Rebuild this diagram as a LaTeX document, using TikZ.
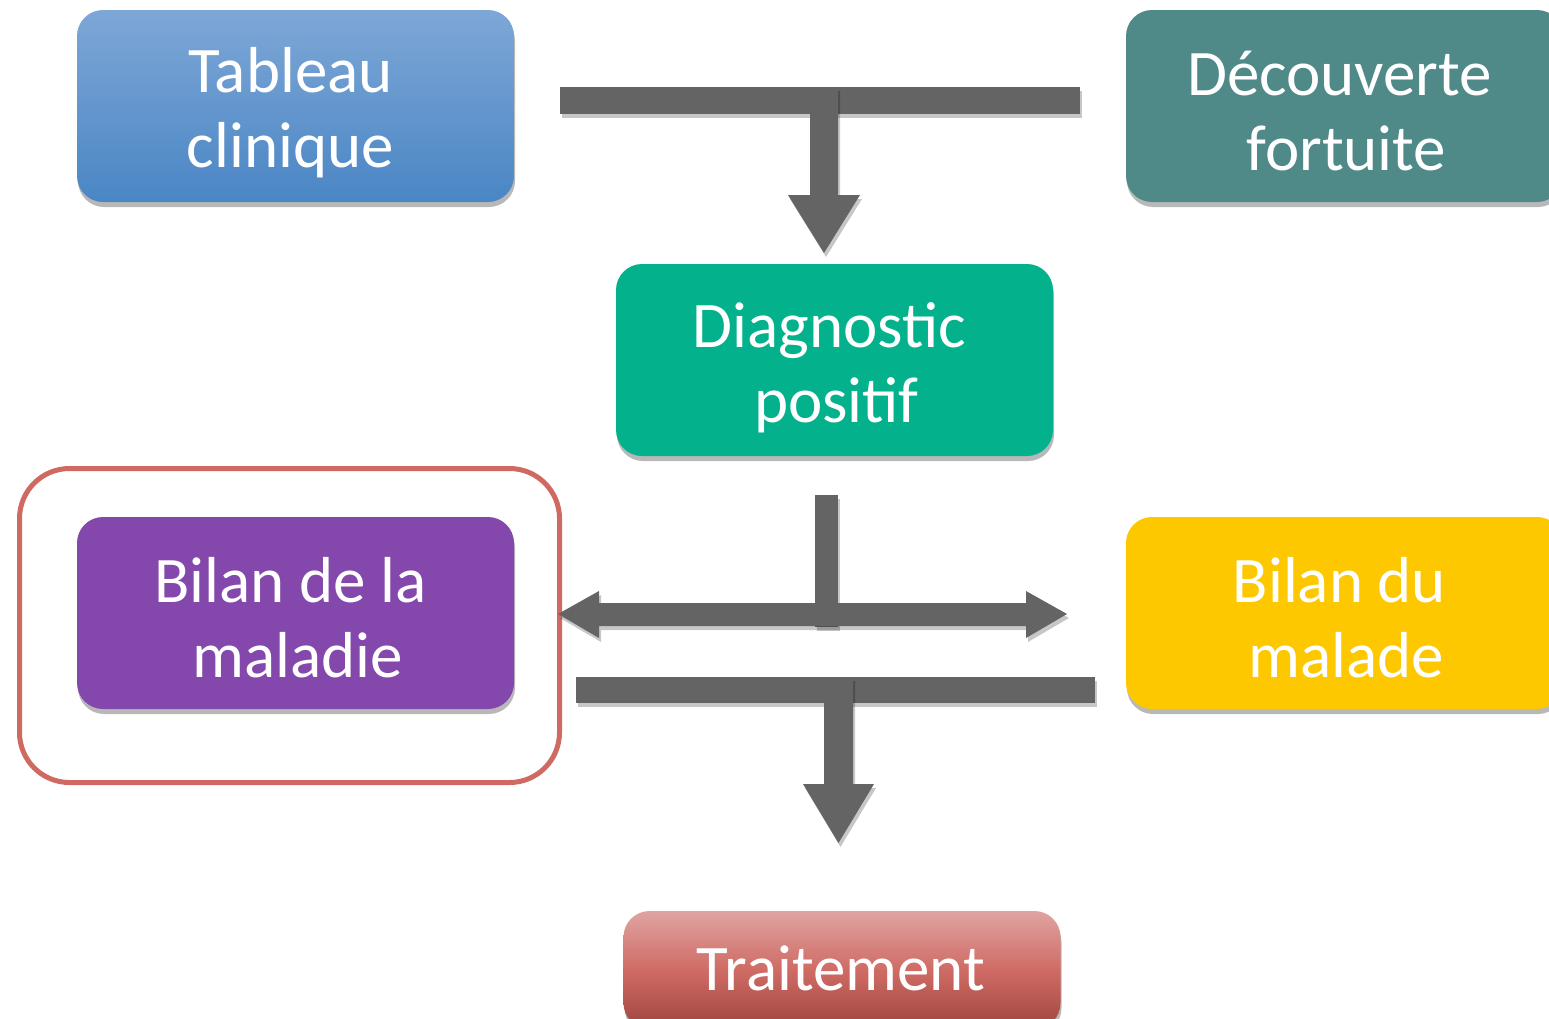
\documentclass[tikz,border=0pt]{standalone}
\usepackage{fontspec}
\setmainfont{Carlito}
\usetikzlibrary{shadows}
\definecolor{cBlueT}{HTML}{7EA7D6}
\definecolor{cBlueB}{HTML}{4A86C5}
\definecolor{cTeal}{HTML}{4F8A88}
\definecolor{cGreen}{HTML}{03B28C}
\definecolor{cPurple}{HTML}{8447AC}
\definecolor{cYellow}{HTML}{FDC800}
\definecolor{cRedT}{HTML}{E0A4A2}
\definecolor{cRedM}{HTML}{CF6B64}
\definecolor{cRedB}{HTML}{A0453F}
\definecolor{cFrame}{HTML}{CF6A63}
\definecolor{cBar}{HTML}{646464}
\newcommand{\indentline}{\hspace*{14pt}}
\tikzset{
  stepbox/.style={rounded corners=26pt, minimum width=437pt, minimum height=192pt,
    inner sep=0pt,
    drop shadow={shadow xshift=1pt, shadow yshift=-5pt, opacity=0.28, fill=black}},
  txt/.style={text=white, align=center, inner sep=0pt, font=\fontsize{65}{75}\selectfont, xshift=-5pt},
  barshape/.style={fill=cBar, draw=none,
    drop shadow={shadow xshift=2pt, shadow yshift=-4pt, opacity=0.22, fill=black}},
}
\begin{document}
\begin{tikzpicture}[x=1pt,y=-1pt]
\useasboundingbox (0,0) rectangle (1549,1018);
\begin{scope}
\clip (0,0) rectangle (1549,1018);
% boxes
\node[stepbox, top color=cBlueT, bottom color=cBlueB,
  label={[txt, yshift=-7pt]center:Tableau\\clinique}] (tab) at (295.5,106) {};
\node[stepbox, fill=cTeal,
  label={[txt, yshift=-5pt]center:Découverte\\\indentline fortuite}] (dec) at (1344.5,106) {};
\node[stepbox, fill=cGreen,
  label={[txt, yshift=-8pt]center:Diagnostic\\\indentline positif}] (diag) at (834.5,360) {};
\node[stepbox, fill=cPurple,
  label={[txt, yshift=-5pt]center:Bilan de la\\\indentline maladie}] (bmal) at (295.5,613) {};
\node[stepbox, fill=cYellow,
  label={[txt, yshift=-5pt]center:Bilan du\\\indentline malade}] (bdu) at (1344.5,613) {};
\node[stepbox, minimum height=118pt, top color=cRedT, bottom color=cRedB, middle color=cRedM,
  label={[txt, xshift=4pt, yshift=2pt]center:Traitement}] (trt) at (842,970) {};
% frame
\node[draw=cFrame, line width=5pt, rounded corners=50pt, minimum width=540pt, minimum height=314pt, inner sep=0pt] (frame) at (289.5,625.5) {};
% connectors
\filldraw[barshape] (560,87) rectangle (1080,114);
\filldraw[barshape] (810,87) -- (838,87) -- (838,195) -- (860,195) -- (824,253) -- (788,195) -- (810,195) -- cycle;
\filldraw[barshape] (815,495) rectangle (838,627);
\filldraw[barshape] (558,614) -- (599,591) -- (599,603) -- (1026,603) -- (1026,591) -- (1067,614) -- (1026,638) -- (1026,626) -- (599,626) -- (599,638) -- cycle;
\filldraw[barshape] (576,677) rectangle (1095,703);
\filldraw[barshape] (824,677) -- (853,677) -- (853,784) -- (874,784) -- (838.5,843) -- (803,784) -- (824,784) -- cycle;
\end{scope}
\end{tikzpicture}
\end{document}
